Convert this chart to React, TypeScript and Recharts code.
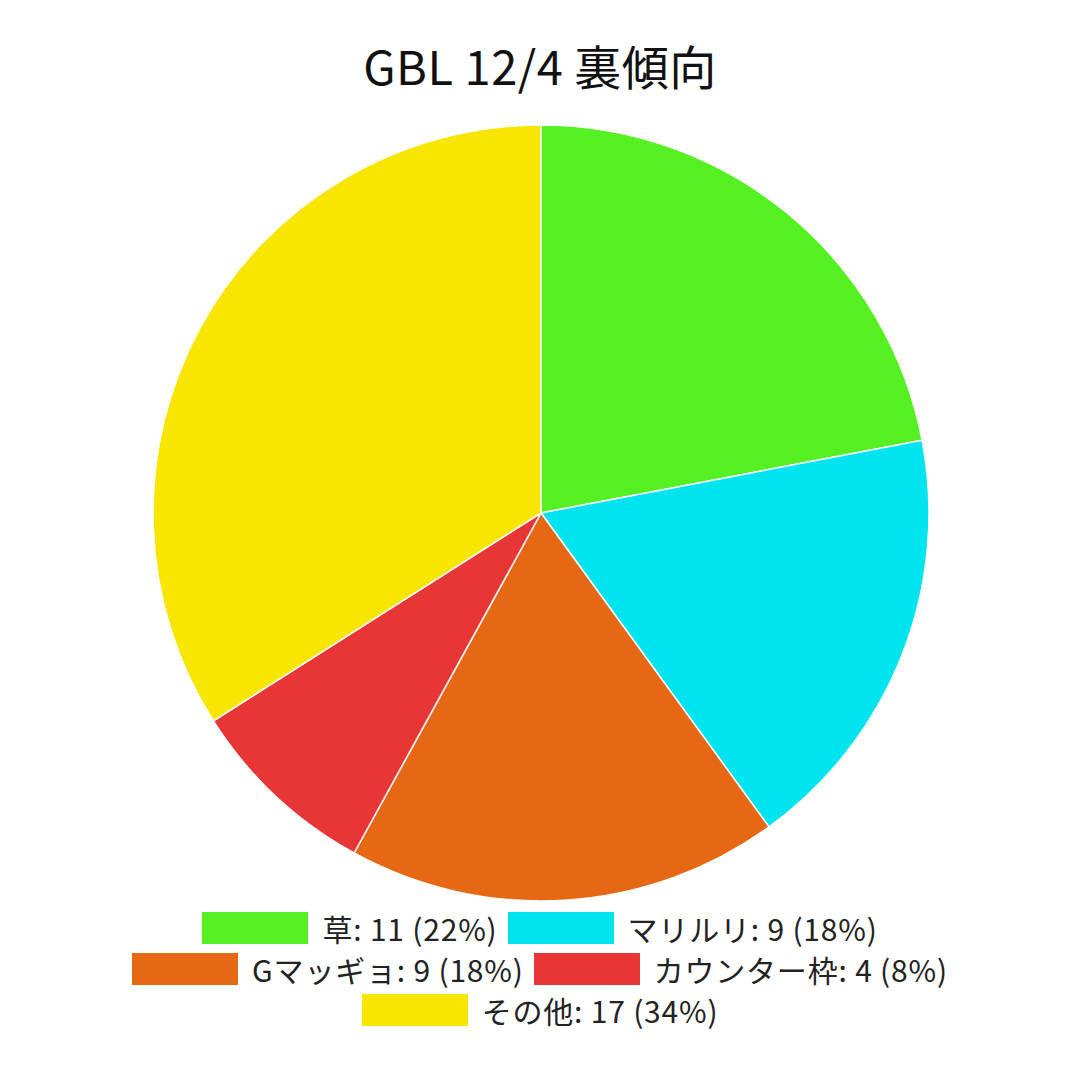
import { PieChart, Pie, Cell, Legend } from 'recharts'

const labels = ['草', 'マリルリ', 'Gマッギョ', 'カウンター枠', 'その他']
const counts = [11, 9, 9, 4, 17]
const colors = ['#55F022', '#00E4F0', '#E66815', '#E83535', '#F8E500']

const total = counts.reduce((a, b) => a + b, 0)
const data = labels.map((name, i) => ({
    name,
    value: counts[i],
    pct: Math.round((counts[i] / total) * 100),
}))

const FONT = '"Noto Sans CJK JP", "Noto Sans", sans-serif'

function LegendBox() {
    return (
        <div
            style={{
                width: 900,
                margin: '0 auto',
                display: 'flex',
                flexWrap: 'wrap',
                justifyContent: 'center',
                rowGap: 9,
                columnGap: 10,
                fontFamily: FONT,
                fontSize: 30,
                color: '#222',
                lineHeight: '32px',
            }}
        >
            {data.map((d, i) => (
                <div key={d.name} style={{ display: 'flex', alignItems: 'center', gap: 14 }}>
                    <div style={{ width: 106, height: 32, background: colors[i] }} />
                    <span style={{ letterSpacing: 0.8 }}>
                        {d.name}: {d.value} ({d.pct}%)
                    </span>
                </div>
            ))}
        </div>
    )
}

export default function App() {
    return (
        <div style={{ position: 'absolute', left: 0, top: 0, width: 1080, height: 1081, background: '#fff' }}>
            <div
                style={{
                    position: 'absolute',
                    top: 33,
                    width: 1080,
                    textAlign: 'center',
                    fontFamily: FONT,
                    fontSize: 47,
                    fontWeight: 400,
                    color: '#111',
                    lineHeight: '64px',
                    letterSpacing: 0.5,
                }}
            >
                GBL 12/4 裏傾向
            </div>
            <PieChart width={1080} height={1081} margin={{ top: 0, right: 0, bottom: 0, left: 0 }}>
                <Pie
                    data={data}
                    dataKey="value"
                    nameKey="name"
                    cx={541}
                    cy={513}
                    outerRadius={388}
                    startAngle={90}
                    endAngle={-270}
                    stroke="#ffffff"
                    strokeWidth={1.5}
                    isAnimationActive={false}
                >
                    {data.map((d, i) => (
                        <Cell key={d.name} fill={colors[i]} />
                    ))}
                </Pie>
                <Legend
                    content={() => <LegendBox />}
                    wrapperStyle={{ top: 912, left: 0, width: 1080 }}
                />
            </PieChart>
        </div>
    )
}
